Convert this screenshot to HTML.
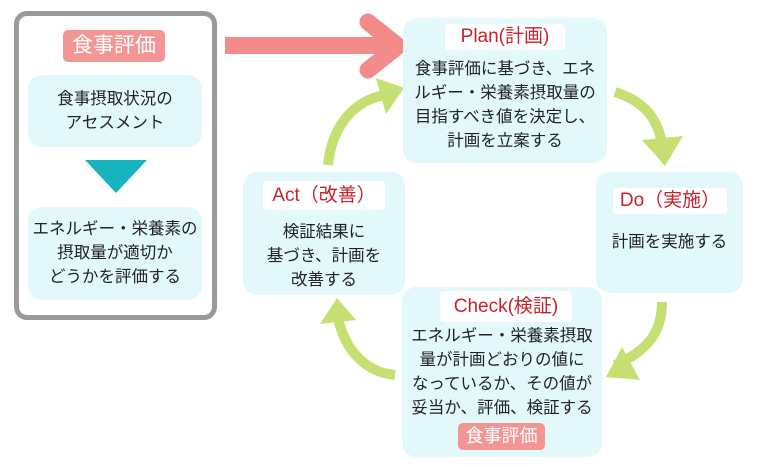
<!DOCTYPE html>
<html><head><meta charset="utf-8"><style>
body{margin:0;width:760px;height:467px;background:#fff;position:relative;overflow:hidden;font-family:"Liberation Sans","Noto Sans CJK JP",sans-serif;color:#222}
.a{position:absolute}
.box{position:absolute;background:#e3f8fa;border-radius:14px}
.t{position:absolute;text-align:center;font-size:16.5px;line-height:24px;color:#222}
.pill{position:absolute;background:#fff;color:#c8232b;text-align:center;font-size:19px;border-radius:4px}
.pink{position:absolute;background:#f29593;color:#fff;text-align:center;border-radius:5px}
</style></head><body>
<div class="a" style="left:14px;top:11px;width:193px;height:299px;border:5px solid #9a9a9a;border-radius:13px"></div>
<div class="pink" style="left:63px;top:30px;width:102px;height:32px;line-height:32px;font-size:21px">食事評価</div>
<div class="box" style="left:28px;top:75px;width:174px;height:72px"></div>
<div class="t" style="left:28px;top:87px;width:174px">食事摂取状況の<br>アセスメント</div>
<svg class="a" style="left:0;top:0" width="760" height="467">
<polygon points="85,160 147,160 116,193" fill="#17b3bf"/>
<rect x="225" y="37" width="165" height="17" fill="#f28b8a"/>
<path d="M368,22 L398,46 L368,70" fill="none" stroke="#f28b8a" stroke-width="17" stroke-linecap="round" stroke-linejoin="round"/>
<g fill="none" stroke="#c6df72" stroke-width="10">
<path d="M328,165 C332,125 355,100 385,95"/>
<path d="M615,92 C640,100 658,115 662,145"/>
<path d="M662,302 C662,330 650,350 615,365"/>
<path d="M395,375 C365,372 345,350 338,318"/>
</g>
<g fill="#c6df72">
<polygon points="376,78 404,88 386,114"/>
<polygon points="642,140 683,136 665,166"/>
<polygon points="622,347 606,377 640,380"/>
<polygon points="320,324 337,298 356,320"/>
</g>
</svg>
<div class="box" style="left:28px;top:207px;width:174px;height:93px"></div>
<div class="t" style="left:28px;top:217px;width:174px">エネルギー・栄養素の<br>摂取量が適切か<br>どうかを評価する</div>

<div class="box" style="left:403px;top:18px;width:204px;height:145px"></div>
<div class="pill" style="left:445px;top:24px;width:120px;height:26px;line-height:26px">Plan(計画)</div>
<div class="t" style="left:403px;top:57px;width:204px">食事評価に基づき、エネ<br>ルギー・栄養素摂取量の<br>目指すべき値を決定し、<br>計画を立案する</div>

<div class="box" style="left:596px;top:172px;width:147px;height:121px"></div>
<div class="pill" style="left:613px;top:188px;width:114px;height:26px;line-height:26px">Do（実施）</div>
<div class="t" style="left:596px;top:230px;width:147px">計画を実施する</div>

<div class="box" style="left:243px;top:172px;width:162px;height:123px"></div>
<div class="pill" style="left:263px;top:181px;width:122px;height:29px;line-height:29px">Act（改善）</div>
<div class="t" style="left:243px;top:220px;width:162px">検証結果に<br>基づき、計画を<br>改善する</div>

<div class="box" style="left:402px;top:287px;width:200px;height:170px"></div>
<div class="pill" style="left:440px;top:291px;width:132px;height:31px;line-height:31px">Check(検証)</div>
<div class="t" style="left:402px;top:324px;width:200px">エネルギー・栄養素摂取<br>量が計画どおりの値に<br>なっているか、その値が<br>妥当か、評価、検証する</div>
<div class="pink" style="left:458px;top:423px;width:87px;height:27px;line-height:27px;font-size:18px">食事評価</div>
</body></html>
